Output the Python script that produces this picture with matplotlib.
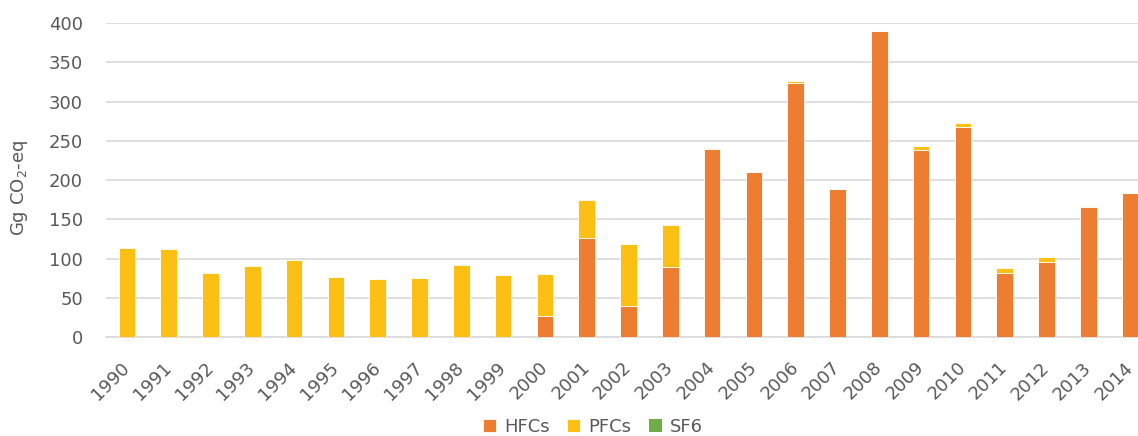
import numpy as np
import matplotlib.pyplot as plt

years = [str(y) for y in range(1990, 2015)]
hfcs = [0, 0, 0, 0, 0, 0, 0, 0, 0, 0, 27, 126, 39, 89, 239, 210, 323, 188, 390, 238, 267, 82, 96, 165, 183]
pfcs = [113, 112, 81, 90, 98, 76, 74, 75, 92, 79, 53, 49, 79, 54, 2, 0.5, 3, 0.5, 0, 5, 5, 6, 6, 1.5, 0.5]
sf6 = [0] * 25

c_hfc = "#ED7D31"
c_pfc = "#FCC015"
c_sf6 = "#70AD47"
txt = "#595959"

fig = plt.figure(figsize=(11.38, 4.36), dpi=100)
ax = fig.add_axes([106 / 1138, 1 - 337 / 436, 1045 / 1138, 314 / 436])

x = np.arange(len(years))
w = 0.4
ax.bar(x, hfcs, w, color=c_hfc, edgecolor="white", linewidth=0.6, label="HFCs", zorder=3)
ax.bar(x, pfcs, w, bottom=hfcs, color=c_pfc, edgecolor="white", linewidth=0.6, label="PFCs", zorder=3)
ax.bar(x, sf6, w, bottom=np.array(hfcs) + np.array(pfcs), color=c_sf6, label="SF6", zorder=3)

ax.set_ylim(0, 400)
ax.set_xlim(-0.5, len(years) - 0.5)
ax.set_yticks(range(0, 401, 50))
ax.set_xticks(x)
ax.set_xticklabels(years, rotation=45, ha="right", va="center", rotation_mode="anchor")
ax.tick_params(axis="y", length=0, labelsize=13, colors=txt, pad=16.5)
ax.tick_params(axis="x", length=0, labelsize=13, colors=txt, pad=20)

ax.grid(axis="y", color="#D9D9D9", linewidth=1.2, zorder=0)
for s in ["top", "right", "left"]:
    ax.spines[s].set_visible(False)
ax.spines["bottom"].set_color("#D9D9D9")
ax.spines["bottom"].set_linewidth(1.2)

fig.text(20 / 1138, 1 - 188 / 436, "Gg CO$_2$-eq", rotation=90, ha="center", va="center",
         fontsize=13, color=txt)

fig.legend(loc="center", bbox_to_anchor=(593 / 1138, 9 / 436), ncol=3, frameon=False,
           fontsize=13, labelcolor=txt, handlelength=0.7, handleheight=0.7,
           handletextpad=0.45, columnspacing=1.0)

fig.savefig("out.png", dpi=100)
